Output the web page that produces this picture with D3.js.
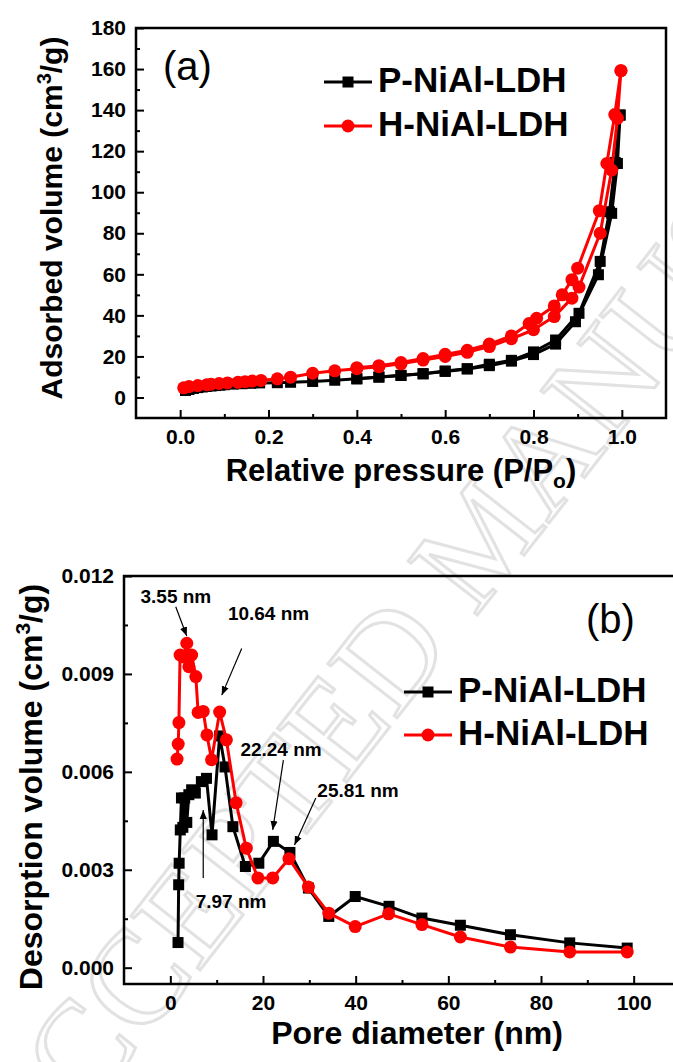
<!DOCTYPE html>
<html>
<head>
<meta charset="utf-8">
<script src="https://cdn.jsdelivr.net/npm/d3@7"></script>
<style>
body { margin: 0; background: #fff; }
svg text { font-family: Arial, "Liberation Sans", sans-serif; }
</style>
</head>
<body>
<svg id="chart"></svg>
<script>
// (a) N2 isotherms
var pAdsX = [0.012, 0.02, 0.03, 0.04, 0.05, 0.06, 0.07, 0.08, 0.09, 0.10, 0.12, 0.14, 0.16, 0.18, 0.22, 0.25, 0.30, 0.35, 0.40, 0.45, 0.50, 0.55, 0.60, 0.65, 0.70, 0.75, 0.80, 0.85, 0.895, 0.947, 0.977, 0.99, 0.996];
var pAdsY = [3.4, 3.9, 4.4, 4.8, 5.1, 5.4, 5.6, 5.8, 6.0, 6.2, 6.5, 6.7, 6.9, 7.1, 7.2, 7.4, 7.8, 8.4, 9.1, 9.9, 10.7, 11.5, 12.7, 13.9, 15.5, 17.7, 20.9, 26.0, 36.9, 59.8, 89.7, 114.0, 137.6];
var pDesX = [0.996, 0.985, 0.972, 0.951, 0.903, 0.85, 0.80, 0.75, 0.70, 0.65, 0.60, 0.55, 0.50, 0.45, 0.40];
var pDesY = [137.6, 114.5, 90.5, 66.3, 41.0, 28.0, 22.2, 18.1, 16.2, 14.0, 12.9, 11.6, 10.8, 10.0, 9.1];
var hAdsX = [0.008, 0.02, 0.04, 0.06, 0.07, 0.088, 0.107, 0.131, 0.147, 0.163, 0.183, 0.22, 0.25, 0.30, 0.35, 0.40, 0.45, 0.50, 0.55, 0.60, 0.65, 0.70, 0.75, 0.80, 0.847, 0.887, 0.903, 0.951, 0.977, 0.99, 0.998];
var hAdsY = [4.7, 5.3, 5.8, 6.2, 6.5, 6.8, 7.1, 7.4, 7.7, 8.0, 8.3, 9.1, 9.9, 11.8, 13.0, 14.0, 15.0, 16.4, 18.2, 20.0, 22.0, 24.8, 28.6, 33.0, 39.4, 48.4, 53.8, 80.0, 110.8, 136.0, 159.2];
var hDesX = [0.998, 0.984, 0.966, 0.949, 0.90, 0.887, 0.865, 0.847, 0.807, 0.79, 0.75, 0.70, 0.65, 0.60, 0.55, 0.50, 0.45, 0.40];
var hDesY = [159.2, 137.8, 114.0, 91.0, 63.0, 57.4, 50.0, 44.6, 38.6, 36.0, 30.0, 26.0, 23.0, 21.0, 19.0, 17.0, 15.5, 14.5];

// (b) BJH pore size distribution
var pPoreX = [1.66, 1.8, 1.9, 2.15, 2.4, 2.7, 3.1, 3.55, 4.0, 4.6, 5.4, 6.7, 7.8, 9.0, 10.64, 11.8, 13.5, 16.2, 19.1, 22.24, 25.81, 29.8, 34.2, 39.9, 47.2, 54.3, 62.6, 73.4, 86.2, 98.6];
var pPoreY = [0.00077, 0.00254, 0.00320, 0.00422, 0.00520, 0.00430, 0.00520, 0.00445, 0.00530, 0.00545, 0.00535, 0.00570, 0.00580, 0.00407, 0.00710, 0.00615, 0.00432, 0.00310, 0.00320, 0.00387, 0.00353, 0.00244, 0.00157, 0.00218, 0.00188, 0.00152, 0.00130, 0.00101, 0.00076, 0.00060];
var hPoreX = [1.45, 1.7, 1.85, 2.1, 2.8, 3.55, 4.0, 4.6, 5.5, 6.0, 7.1, 7.9, 8.9, 10.64, 12.1, 14.2, 16.4, 18.9, 22.1, 25.6, 29.8, 34.2, 39.9, 47.1, 54.3, 62.6, 73.4, 86.2, 98.6];
var hPoreY = [0.00639, 0.00685, 0.00751, 0.00958, 0.00952, 0.00994, 0.00922, 0.00958, 0.00892, 0.00782, 0.00785, 0.00713, 0.00637, 0.00783, 0.00698, 0.00505, 0.00366, 0.00275, 0.00275, 0.00334, 0.00247, 0.00167, 0.00126, 0.00165, 0.00132, 0.00094, 0.00063, 0.00048, 0.00048];

var seriesNames = ['P-NiAl-LDH', 'H-NiAl-LDH'];

// ticks
var aXTicks = [0, 0.2, 0.4, 0.6, 0.8, 1.0];
var aXMinor = [0.1, 0.3, 0.5, 0.7, 0.9];
var aYTicks = [0, 20, 40, 60, 80, 100, 120, 140, 160, 180];
var aYMinor = [10, 30, 50, 70, 90, 110, 130, 150, 170];
var bXTicks = [0, 20, 40, 60, 80, 100];
var bXMinor = [10, 30, 50, 70, 90];
var bYTicks = [0, 0.003, 0.006, 0.009, 0.012];
var bYMinor = [0.0015, 0.0045, 0.0075, 0.0105];

// annotations in (b): label, text x/y, arrow from x/y, arrow to x/y
var annLabels = ['3.55 nm', '10.64 nm', '22.24 nm', '25.81 nm', '7.97 nm'];
var annText = [[1.2, 0.01117], [21.2, 0.01065], [23.9, 0.00648], [40.5, 0.00523], [13.1, 0.00183]];
var annFrom = [[1.17, 0.01106], [15.4, 0.00978], [24.4, 0.00636], [31.4, 0.00520], [7.1, 0.00275]];
var annTo = [[3.54, 0.01016], [11.1, 0.00835], [22.1, 0.00422], [26.8, 0.00376], [7.1, 0.00483]];

var svg = d3.select('#chart')
	.attr('width', 673)
	.attr('height', 1062);

svg.append('rect')
	.attr('width', 673)
	.attr('height', 1062)
	.attr('fill', '#fff');

// faint watermark
svg.append('text')
	.attr('transform', 'translate(28,1190) rotate(-52)')
	.style('font-family', '"Liberation Serif", "DejaVu Serif", serif')
	.attr('font-size', 134)
	.attr('fill', 'none')
	.attr('stroke', '#e2e2e2')
	.attr('stroke-width', 3)
	.text('ACCEPTED MANUSCRIPT');

svg.append('defs').append('marker')
	.attr('id', 'arrow')
	.attr('viewBox', '0 0 10 10')
	.attr('refX', 10)
	.attr('refY', 5)
	.attr('markerWidth', 9)
	.attr('markerHeight', 9)
	.attr('markerUnits', 'userSpaceOnUse')
	.attr('orient', 'auto')
	.append('path')
	.attr('d', 'M0,1 L10,5 L0,9 Z')
	.attr('fill', '#000');

var xA = d3.scaleLinear().domain([-0.1, 1.1]).range([136, 666]);
var yA = d3.scaleLinear().domain([-10, 180]).range([418, 28]);
var xB = d3.scaleLinear().domain([-10, 110]).range([124, 680]);
var yB = d3.scaleLinear().domain([-0.0005, 0.012]).range([984, 576]);

function drawAxes(x, y, xMajor, xMinor, yMajor, yMinor, xFmt, yFmt) {
	var bottom = y.range()[0], left = x.range()[0];
	svg.append('g')
		.attr('transform', 'translate(0,' + bottom + ')')
		.call(d3.axisBottom(x).tickValues(xMajor).tickSizeInner(-8).tickSizeOuter(0).tickPadding(11).tickFormat(xFmt));
	svg.append('g')
		.attr('transform', 'translate(0,' + bottom + ')')
		.call(d3.axisBottom(x).tickValues(xMinor).tickSizeInner(-4).tickSizeOuter(0).tickFormat(''));
	svg.append('g')
		.attr('transform', 'translate(' + left + ',0)')
		.call(d3.axisLeft(y).tickValues(yMajor).tickSizeInner(-8).tickSizeOuter(0).tickPadding(10).tickFormat(yFmt));
	svg.append('g')
		.attr('transform', 'translate(' + left + ',0)')
		.call(d3.axisLeft(y).tickValues(yMinor).tickSizeInner(-4).tickSizeOuter(0).tickFormat(''));
	svg.selectAll('.domain').remove();
	svg.selectAll('.tick line')
		.attr('stroke', '#000')
		.attr('stroke-width', 2);
	svg.selectAll('.tick text')
		.attr('fill', '#000')
		.attr('font-size', 21)
		.attr('font-weight', 'bold');
	svg.append('rect')
		.attr('x', x.range()[0])
		.attr('y', y.range()[1])
		.attr('width', x.range()[1] - x.range()[0])
		.attr('height', y.range()[0] - y.range()[1])
		.attr('fill', 'none')
		.attr('stroke', '#000')
		.attr('stroke-width', 2.5);
}

function drawSeries(x, y, xs, ys, color, shape) {
	var pts = xs.map(function(v, i) { return [v, ys[i]]; });
	svg.append('path')
		.datum(pts)
		.attr('fill', 'none')
		.attr('stroke', color)
		.attr('stroke-width', 3)
		.attr('stroke-linejoin', 'round')
		.attr('d', d3.line().x(function(d) { return x(d[0]); }).y(function(d) { return y(d[1]); }));
	drawMarkers(svg, pts.map(function(d) { return [x(d[0]), y(d[1])]; }), color, shape);
}

function drawMarkers(g, pts, color, shape) {
	if (shape == 'square') {
		g.selectAll(null).data(pts).enter().append('rect')
			.attr('x', function(d) { return d[0] - 5.5; })
			.attr('y', function(d) { return d[1] - 5.5; })
			.attr('width', 11)
			.attr('height', 11)
			.attr('fill', color);
	} else {
		g.selectAll(null).data(pts).enter().append('circle')
			.attr('cx', function(d) { return d[0]; })
			.attr('cy', function(d) { return d[1]; })
			.attr('r', 6.5)
			.attr('fill', color);
	}
}

function drawLegend(x0, y0, gap) {
	var colors = ['#000', '#ff0000'];
	var shapes = ['square', 'circle'];
	seriesNames.forEach(function(name, i) {
		var ly = y0 + i * gap;
		svg.append('line')
			.attr('x1', x0)
			.attr('x2', x0 + 48)
			.attr('y1', ly)
			.attr('y2', ly)
			.attr('stroke', colors[i])
			.attr('stroke-width', 3);
		drawMarkers(svg, [[x0 + 24, ly]], colors[i], shapes[i]);
		svg.append('text')
			.attr('x', x0 + 54)
			.attr('y', ly + 10)
			.attr('font-size', 35)
			.attr('font-weight', 'bold')
			.text(name);
	});
}

// panel (a)
drawAxes(xA, yA, aXTicks, aXMinor, aYTicks, aYMinor, d3.format('.1f'), d3.format('d'));
drawSeries(xA, yA, pAdsX, pAdsY, '#000', 'square');
drawSeries(xA, yA, pDesX, pDesY, '#000', 'square');
drawSeries(xA, yA, hAdsX, hAdsY, '#ff0000', 'circle');
drawSeries(xA, yA, hDesX, hDesY, '#ff0000', 'circle');
drawLegend(324, 82, 44);

svg.append('text')
	.attr('x', 163)
	.attr('y', 80)
	.attr('font-size', 40)
	.text('(a)');

var ta = svg.append('text')
	.attr('x', 401)
	.attr('y', 481)
	.attr('text-anchor', 'middle')
	.attr('font-size', 31)
	.attr('font-weight', 'bold');
ta.append('tspan').text('Relative pressure (P/P');
ta.append('tspan').attr('font-size', 21).attr('dy', 7).text('o');
ta.append('tspan').attr('dy', -7).text(')');

var tay = svg.append('text')
	.attr('transform', 'translate(62,218) rotate(-90)')
	.attr('text-anchor', 'middle')
	.attr('font-size', 30)
	.attr('font-weight', 'bold');
tay.append('tspan').text('Adsorbed volume (cm');
tay.append('tspan').attr('font-size', 20).attr('dy', -11).text('3');
tay.append('tspan').attr('dy', 11).text('/g)');

// panel (b)
drawAxes(xB, yB, bXTicks, bXMinor, bYTicks, bYMinor, d3.format('d'), d3.format('.3f'));
drawSeries(xB, yB, pPoreX, pPoreY, '#000', 'square');
drawSeries(xB, yB, hPoreX, hPoreY, '#ff0000', 'circle');
drawLegend(404, 692, 43);

svg.append('text')
	.attr('x', 586)
	.attr('y', 633)
	.attr('font-size', 40)
	.text('(b)');

annLabels.forEach(function(label, i) {
	svg.append('line')
		.attr('x1', xB(annFrom[i][0]))
		.attr('y1', yB(annFrom[i][1]))
		.attr('x2', xB(annTo[i][0]))
		.attr('y2', yB(annTo[i][1]))
		.attr('stroke', '#000')
		.attr('stroke-width', 1.2)
		.attr('marker-end', 'url(#arrow)');
	svg.append('text')
		.attr('x', xB(annText[i][0]))
		.attr('y', yB(annText[i][1]))
		.attr('text-anchor', 'middle')
		.attr('font-size', 19)
		.attr('font-weight', 'bold')
		.text(label);
});

svg.append('text')
	.attr('x', 417)
	.attr('y', 1044)
	.attr('text-anchor', 'middle')
	.attr('font-size', 32)
	.attr('font-weight', 'bold')
	.text('Pore diameter (nm)');

var tby = svg.append('text')
	.attr('transform', 'translate(42,787) rotate(-90)')
	.attr('text-anchor', 'middle')
	.attr('font-size', 32)
	.attr('font-weight', 'bold');
tby.append('tspan').text('Desorption volume (cm');
tby.append('tspan').attr('font-size', 21).attr('dy', -12).text('3');
tby.append('tspan').attr('dy', 12).text('/g)');
</script>
</body>
</html>
